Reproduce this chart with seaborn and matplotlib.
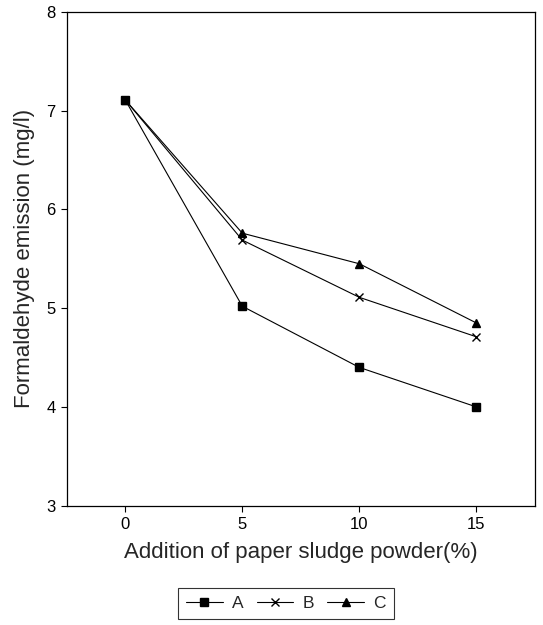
import matplotlib
matplotlib.use("Agg")
import matplotlib.pyplot as plt
import seaborn as sns
import pandas as pd

# Paper sludge powder addition (%) and formaldehyde emission (mg/l)
addition = [0, 5, 10, 15]
series_a = [7.11, 5.02, 4.40, 4.00]
series_b = [7.11, 5.69, 5.11, 4.71]
series_c = [7.11, 5.76, 5.45, 4.85]
series_names = ["A", "B", "C"]
x_ticks = [0, 5, 10, 15]
y_ticks = [3, 4, 5, 6, 7, 8]

sns.set_theme(style="ticks")
plt.rcParams["font.family"] = ["Liberation Sans", "DejaVu Sans"]

fig = plt.figure(figsize=(5.43, 6.25), dpi=100)
ax = fig.add_axes([0.1228, 0.1909, 0.8625, 0.7899])

markers = {"A": "s", "B": "x", "C": "^"}
for name, vals in zip(series_names, [series_a, series_b, series_c]):
    df = pd.DataFrame({"addition": addition, "emission": vals})
    sns.lineplot(data=df, x="addition", y="emission", color="black",
                 marker=markers[name], linewidth=0.8, markersize=6,
                 markeredgewidth=1.0, markeredgecolor="black",
                 ax=ax, label=name, legend=False)

ax.set_xlim(-2.5, 17.5)
ax.set_ylim(3, 8)
ax.set_xticks(x_ticks)
ax.set_yticks(y_ticks)
ax.tick_params(axis="both", direction="out", length=4, width=0.8,
               labelsize=12, colors="black", pad=4)
for s in ax.spines.values():
    s.set_visible(True)
    s.set_color("black")
    s.set_linewidth(0.9)

ax.set_xlabel("Addition of paper sludge powder(%)", fontsize=16, labelpad=7)
ax.set_ylabel("Formaldehyde emission (mg/l)", fontsize=16, labelpad=8)

handles = [plt.Line2D([], [], color="black", lw=0.8, marker=markers[n],
                      markersize=6, markeredgewidth=1.0) for n in series_names]
leg = fig.legend(handles, series_names, loc="upper center",
                 bbox_to_anchor=(286 / 543, 1 - 588 / 625), ncol=3,
                 frameon=True, fancybox=False, edgecolor="black",
                 fontsize=12.5, handlelength=2.1, handletextpad=0.55,
                 columnspacing=0.75, borderpad=0.45, borderaxespad=0)
leg.get_frame().set_linewidth(0.8)

fig.savefig("out.png", dpi=100, facecolor="white")
